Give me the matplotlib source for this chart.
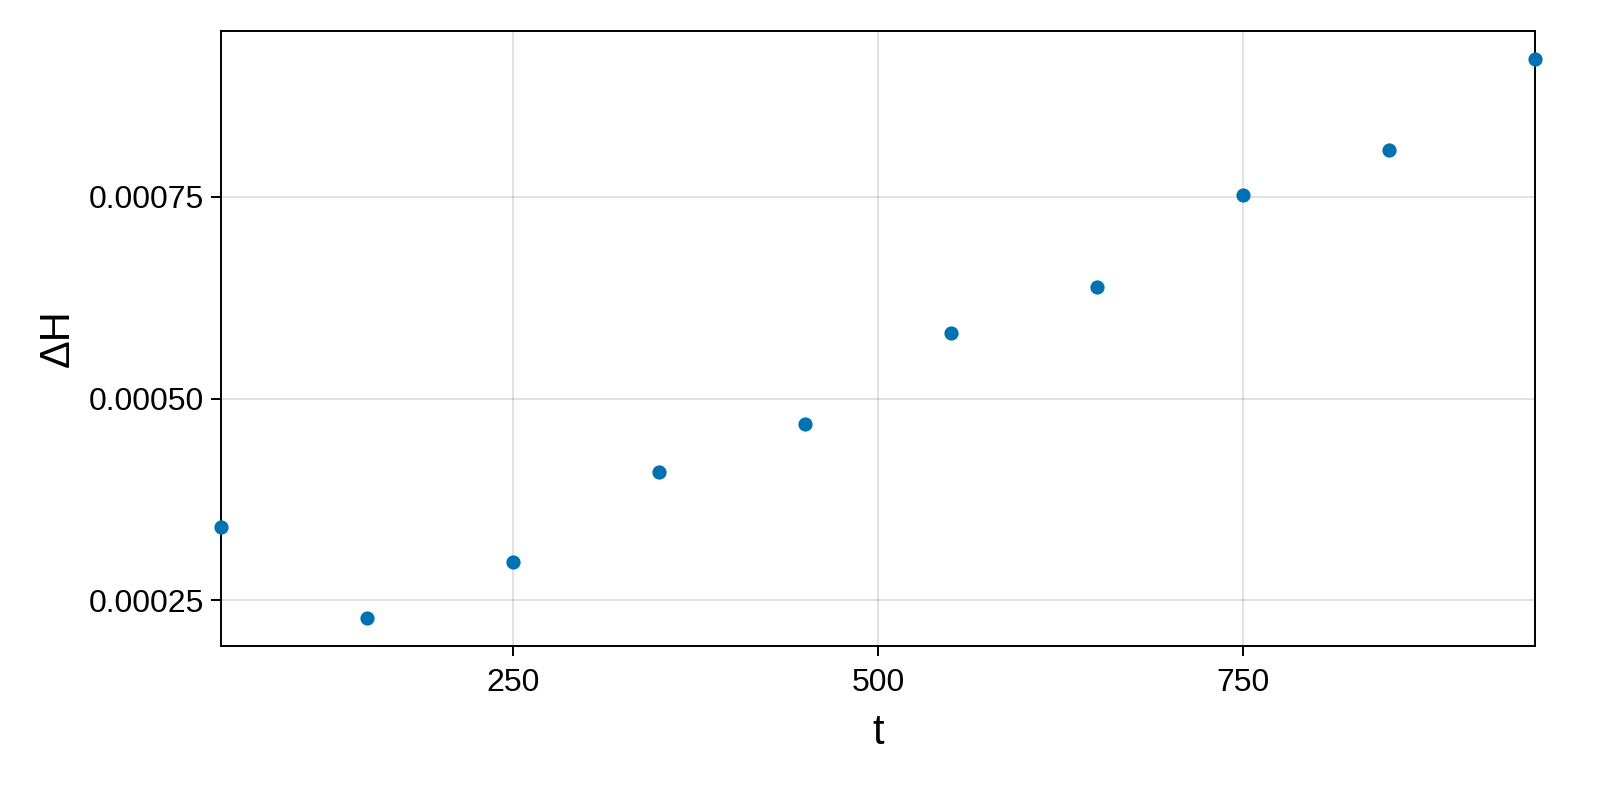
import matplotlib.pyplot as plt
import numpy as np

# data
t = [50, 150, 250, 350, 450, 550, 650, 750, 850, 950]
dH = [0.000341, 0.000228, 0.000298, 0.000409, 0.000468,
      0.000581, 0.000638, 0.000752, 0.000808, 0.000921]
x_ticks = [250, 500, 750]
y_ticks = [0.00025, 0.00050, 0.00075]
y_labels = ['0.00025', '0.00050', '0.00075']

plt.rcParams['font.family'] = ['Liberation Sans', 'DejaVu Sans']

fig = plt.figure(figsize=(16, 8), dpi=100)
ax = fig.add_axes([221 / 1600, 1 - 646 / 800, (1535 - 221) / 1600, (646 - 31) / 800])

ax.scatter(t, dH, s=105, color='#0072B2', zorder=3, clip_on=False, linewidths=0)

ax.set_xlim(min(t), max(t))
span = max(dH) - min(dH)
ax.set_ylim(min(dH) - 0.05 * span, max(dH) + 0.05 * span)

ax.set_xticks(x_ticks)
ax.set_yticks(y_ticks)
ax.set_yticklabels(y_labels)
ax.grid(True, color='black', alpha=0.12, linewidth=1.4)
ax.set_axisbelow(True)

ax.tick_params(direction='out', length=7, width=1.4, labelsize=23)
ax.tick_params(axis='x', pad=9)
ax.tick_params(axis='y', pad=5)
for s in ax.spines.values():
    s.set_linewidth(1.4)

ax.set_xlabel('t', fontsize=30, labelpad=11)
ax.set_ylabel('ΔH', fontsize=30, labelpad=8)

plt.savefig('out.png')
